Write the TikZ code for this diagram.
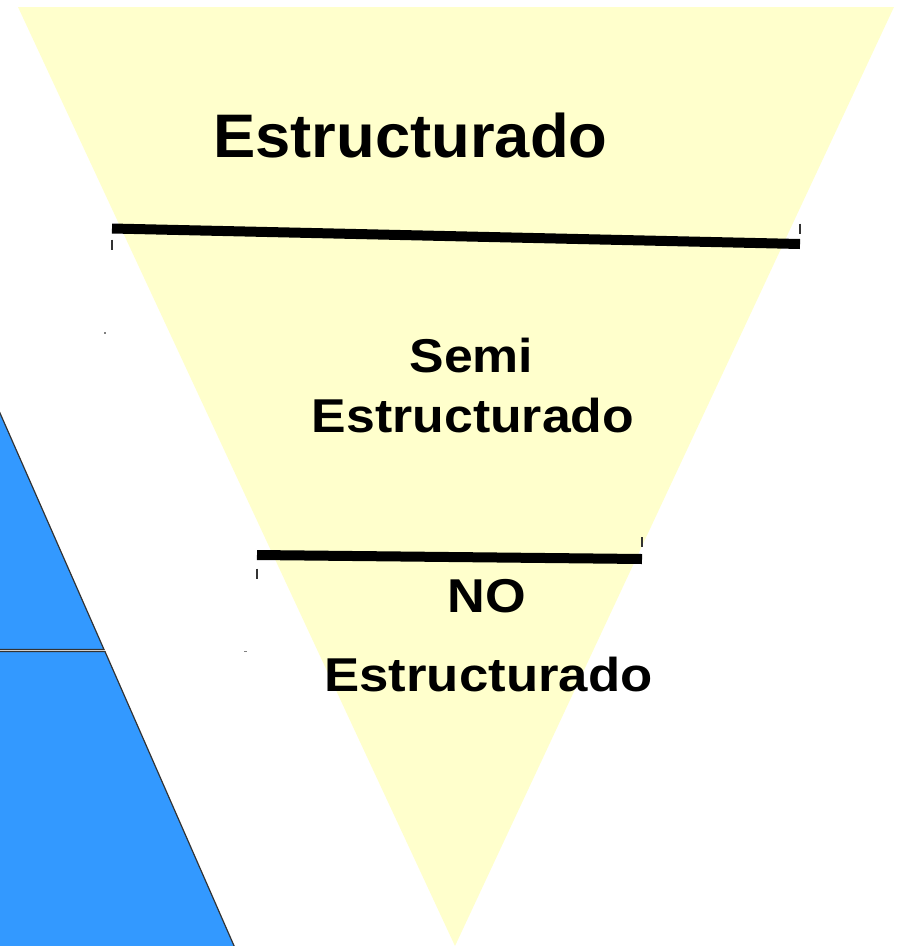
\documentclass[tikz,border=0pt]{standalone}
\usepackage{graphicx}
\usepackage{fontspec}
\setmainfont{Liberation Sans}
\definecolor{funnelfill}{HTML}{FFFFCC}
\definecolor{bluefill}{HTML}{3399FF}
\definecolor{edgegray}{HTML}{333333}
\begin{document}
\begin{tikzpicture}[x=1pt,y=-1pt,
  funnel/.style={fill=funnelfill},
  bluepart/.style={fill=bluefill},
  blueedge/.style={draw=edgegray,line width=1.2pt},
  divider/.style={line width=10pt,draw=black},
  tick/.style={line width=1.6pt,draw=black!80},
  speck/.style={fill=gray},
  biglabel/.style={font=\fontsize{61.5}{61.5}\selectfont\bfseries,anchor=base,inner sep=0pt},
  midlabel/.style={font=\fontsize{47.5}{47.5}\selectfont\bfseries,anchor=base,inner sep=0pt}]
\useasboundingbox (0,0) rectangle (899,946);
% yellow inverted triangle
\fill[funnel] (18,7) -- (894,7) -- (455,946) -- cycle;
% blue shapes on the left
\fill[bluepart] (-2,408.5) -- (104,649.5) -- (-2,649.5) -- cycle;
\draw[blueedge] (-2,408.5) -- (104,649.5) -- (-2,649.5);
\fill[bluepart] (-2,651.5) -- (105,651.5) -- (235,948) -- (-2,948) -- cycle;
\draw[blueedge] (-2,651.5) -- (105,651.5) -- (235,948);
% dividers
\coordinate (d1a) at (112,228.5);
\coordinate (d1b) at (800,244);
\coordinate (d2a) at (257,555);
\coordinate (d2b) at (642,559);
\draw[divider] (d1a) -- (d1b);
\draw[divider] (d2a) -- (d2b);
% small ticks
\draw[tick] (112,239.5) -- (112,249.5);
\draw[tick] (800,223.5) -- (800,233.5);
\draw[tick] (257,568.5) -- (257,578.5);
\draw[tick] (642,537) -- (642,547);
% specks
\fill[speck] (103.5,332) rectangle (105.5,333.5);
\fill[speck] (244,650.5) rectangle (246.5,651.8);
% labels
\node[biglabel] (t1) at (410.5,157) {\scalebox{1.03}[1]{Estructurado}};
\node[midlabel] (t2a) at (471.5,372) {\scalebox{1.09}[1]{Semi}};
\node[midlabel] (t2b) at (473,432) {\scalebox{1.09}[1]{Estructurado}};
\node[midlabel] (t3a) at (487,612) {\scalebox{1.10}[1]{NO}};
\node[midlabel] (t3b) at (488.5,691) {\scalebox{1.11}[1]{Estructurado}};
\end{tikzpicture}
\end{document}
